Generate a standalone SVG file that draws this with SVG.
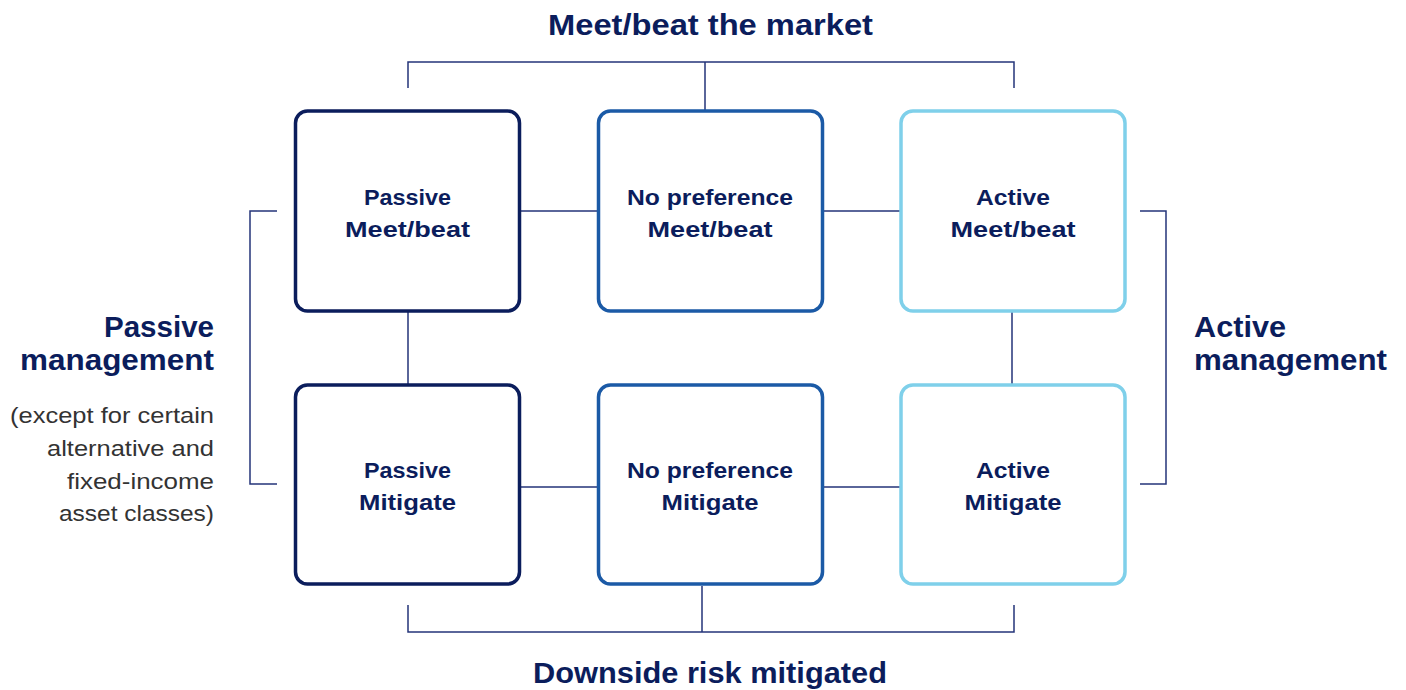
<svg xmlns="http://www.w3.org/2000/svg" width="1406" height="690" viewBox="0 0 1406 690">
<style>
.box{fill:#ffffff;stroke-width:3.5}
.c1{stroke:#0b1d5c}
.c2{stroke:#1b5aa6}
.c3{stroke:#7fd0ea}
.bt{font-family:"Liberation Sans",Arial,sans-serif;font-weight:700;font-size:22px;fill:#0b1d5c;text-anchor:middle}
.title{font-family:"Liberation Sans",Arial,sans-serif;font-weight:700;font-size:29px;fill:#0b1d5c}
.sub{font-family:"Liberation Sans",Arial,sans-serif;font-size:22px;fill:#333333;text-anchor:end}
.ln{fill:none;stroke:#24357a;stroke-width:1.5}
</style>
<rect width="1406" height="690" fill="#ffffff"/>
<g id="connectors">
<path class="ln" d="M408 88V62H1014V88M705 62V110"/>
<path class="ln" d="M408 605V632H1014V605M702 632V586"/>
<path class="ln" d="M277 211H250V484H277"/>
<path class="ln" d="M1140 211H1166V484H1140"/>
<path class="ln" d="M521 211H597M823 211H900"/>
<path class="ln" d="M521 487H597M823 487H900"/>
<path class="ln" d="M408 312V384M1012 312V384"/>
</g>
<g id="title-top"><text class="title" x="710.5" y="35" text-anchor="middle" textLength="325" lengthAdjust="spacingAndGlyphs">Meet/beat the market</text></g>
<g id="title-bottom"><text class="title" x="710" y="683" text-anchor="middle" textLength="354" lengthAdjust="spacingAndGlyphs">Downside risk mitigated</text></g>
<g id="passive-management">
<text class="title" x="214" y="337" text-anchor="end" textLength="110" lengthAdjust="spacingAndGlyphs">Passive</text>
<text class="title" x="214" y="370" text-anchor="end" textLength="194" lengthAdjust="spacingAndGlyphs">management</text>
<text class="sub" x="214" y="423" textLength="204" lengthAdjust="spacingAndGlyphs">(except for certain</text>
<text class="sub" x="214" y="456" textLength="167" lengthAdjust="spacingAndGlyphs">alternative and</text>
<text class="sub" x="214" y="489" textLength="147" lengthAdjust="spacingAndGlyphs">fixed-income</text>
<text class="sub" x="214" y="521" textLength="155" lengthAdjust="spacingAndGlyphs">asset classes)</text>
</g>
<g id="active-management">
<text class="title" x="1194" y="337" textLength="92" lengthAdjust="spacingAndGlyphs">Active</text>
<text class="title" x="1194" y="370" textLength="193" lengthAdjust="spacingAndGlyphs">management</text>
</g>
<g id="passive-meet"><rect class="box c1" x="295.5" y="111" width="224" height="200" rx="12"/><text class="bt" x="407.5" y="205" textLength="87" lengthAdjust="spacingAndGlyphs">Passive</text><text class="bt" x="407.5" y="237" textLength="125" lengthAdjust="spacingAndGlyphs">Meet/beat</text></g>
<g id="nopref-meet"><rect class="box c2" x="598.5" y="111" width="224" height="200" rx="12"/><text class="bt" x="710" y="205" textLength="166" lengthAdjust="spacingAndGlyphs">No preference</text><text class="bt" x="710" y="237" textLength="125" lengthAdjust="spacingAndGlyphs">Meet/beat</text></g>
<g id="active-meet"><rect class="box c3" x="901" y="111" width="224" height="200" rx="12"/><text class="bt" x="1013" y="205" textLength="74" lengthAdjust="spacingAndGlyphs">Active</text><text class="bt" x="1013" y="237" textLength="125" lengthAdjust="spacingAndGlyphs">Meet/beat</text></g>
<g id="passive-mit"><rect class="box c1" x="295.5" y="385" width="224" height="199" rx="12"/><text class="bt" x="407.5" y="478" textLength="87" lengthAdjust="spacingAndGlyphs">Passive</text><text class="bt" x="407.5" y="510" textLength="97" lengthAdjust="spacingAndGlyphs">Mitigate</text></g>
<g id="nopref-mit"><rect class="box c2" x="598.5" y="385" width="224" height="199" rx="12"/><text class="bt" x="710" y="478" textLength="166" lengthAdjust="spacingAndGlyphs">No preference</text><text class="bt" x="710" y="510" textLength="97" lengthAdjust="spacingAndGlyphs">Mitigate</text></g>
<g id="active-mit"><rect class="box c3" x="901" y="385" width="224" height="199" rx="12"/><text class="bt" x="1013" y="478" textLength="74" lengthAdjust="spacingAndGlyphs">Active</text><text class="bt" x="1013" y="510" textLength="97" lengthAdjust="spacingAndGlyphs">Mitigate</text></g>
</svg>
